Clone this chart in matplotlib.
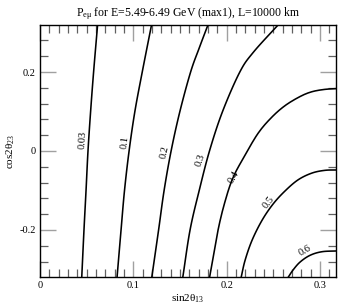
import matplotlib
matplotlib.use("Agg")
import numpy as np
import matplotlib.pyplot as plt
from matplotlib.ticker import MultipleLocator

plt.rcParams['font.family'] = ['Liberation Serif', 'DejaVu Serif']
plt.rcParams['mathtext.fontset'] = 'custom'
plt.rcParams['mathtext.rm'] = 'Liberation Serif'
plt.rcParams['mathtext.it'] = 'Liberation Serif:italic'

# Contour levels of P_e-mu and traced points (sin2theta13, cos2theta23)
levels = ["0.03", "0.1", "0.2", "0.3", "0.4", "0.5", "0.6"]

c003_x = [0.0447, 0.0471, 0.0493, 0.0514, 0.0542, 0.0574, 0.0617]
c003_y = [-0.32, -0.2, -0.1, 0.0, 0.1, 0.2, 0.32]

c01_x = [0.0825, 0.0868, 0.0905, 0.0954, 0.1016, 0.1095, 0.1195]
c01_y = [-0.32, -0.2, -0.1, 0.0, 0.1, 0.2, 0.32]

c02_x = [0.1197, 0.1270, 0.1329, 0.1404, 0.1498, 0.1613, 0.1704, 0.1800]
c02_y = [-0.32, -0.2, -0.1, 0.0, 0.1, 0.2, 0.26, 0.32]

c03_x = [0.1529, 0.1607, 0.1705, 0.1815, 0.1955, 0.2140, 0.2285, 0.2553]
c03_y = [-0.32, -0.2, -0.1, 0.0, 0.1, 0.2, 0.25, 0.32]

c04_x = [0.1816, 0.1907, 0.1985, 0.2068, 0.2185, 0.2336, 0.2480, 0.2625, 0.2786, 0.2911, 0.3050, 0.3180]
c04_y = [-0.32, -0.2, -0.125, -0.067, -0.015, 0.045, 0.085, 0.115, 0.138, 0.150, 0.156, 0.158]

c05_x = [0.2154, 0.2196, 0.2271, 0.2379, 0.2497, 0.2625, 0.2764, 0.2911, 0.3050, 0.3180]
c05_y = [-0.32, -0.277, -0.226, -0.175, -0.134, -0.101, -0.073, -0.056, -0.049, -0.048]

c06_x = [0.2657, 0.2711, 0.2786, 0.2893, 0.3020, 0.3180]
c06_y = [-0.32, -0.301, -0.281, -0.264, -0.255, -0.253]

curves = [(c003_x, c003_y), (c01_x, c01_y), (c02_x, c02_y), (c03_x, c03_y),
          (c04_x, c04_y), (c05_x, c05_y), (c06_x, c06_y)]

# label anchor positions and angles
label_x = [0.0455, 0.0911, 0.1340, 0.1714, 0.2071, 0.2454, 0.2839]
label_y = [0.027, 0.023, -0.003, -0.024, -0.066, -0.129, -0.251]
label_rot = [86, 83, 77, 71, 60, 52, 30]

xticks = [0, 0.1, 0.2, 0.3]
xticklabels = ["0", "0.1", "0.2", "0.3"]
yticks = [-0.2, 0, 0.2]
yticklabels = ["-0.2", "0", "0.2"]


def smooth_path(xs, ys, n=12):
    """Catmull-Rom rendering through the traced points (drawing only)."""
    p = np.column_stack([xs, ys]).astype(float)
    p = np.vstack([2 * p[0] - p[1], p, 2 * p[-1] - p[-2]])
    out = []
    t = np.linspace(0, 1, n, endpoint=False)[:, None]
    for i in range(1, len(p) - 2):
        p0, p1, p2, p3 = p[i - 1], p[i], p[i + 1], p[i + 2]
        seg = 0.5 * ((2 * p1) + (-p0 + p2) * t + (2 * p0 - 5 * p1 + 4 * p2 - p3) * t ** 2
                     + (-p0 + 3 * p1 - 3 * p2 + p3) * t ** 3)
        out.append(seg)
    out.append(p[-2][None, :])
    out = np.vstack(out)
    return out[:, 0], out[:, 1]


fig = plt.figure(figsize=(3.38, 3.08), dpi=100)
ax = fig.add_axes([40/338, 1-277/308, 296/338, 252/308])

for (xs, ys) in curves:
    sx, sy = smooth_path(xs, ys)
    ax.plot(sx, sy, color='black', lw=1.15, solid_capstyle='butt')

for lab, lx, ly, r in zip(levels, label_x, label_y, label_rot):
    ax.text(lx, ly, lab, rotation=r, ha='center', va='center', fontsize=7.5,
            rotation_mode='anchor')

ax.set_xlim(0, 0.317)
ax.set_ylim(-0.319, 0.319)
ax.set_xticks(xticks)
ax.set_xticklabels(xticklabels)
ax.set_yticks(yticks)
ax.set_yticklabels(yticklabels)
ax.xaxis.set_minor_locator(MultipleLocator(0.01))
ax.yaxis.set_minor_locator(MultipleLocator(0.04))

ax.tick_params(which='both', direction='in', top=True, right=True)
ax.tick_params(which='major', length=11.5, width=1.0, color='#a0a0a0',
               labelsize=7.5, labelcolor='black', pad=3)
ax.tick_params(which='minor', length=5.5, width=0.9, color='#606060')
for s in ax.spines.values():
    s.set_linewidth(1.0)
    s.set_color('black')

ax.set_xlabel(r"sin2θ$_{13}$", fontsize=8, labelpad=2)
ax.set_ylabel(r"cos2θ$_{23}$", fontsize=8, labelpad=2)
ax.set_title(r"P$_{\mathrm{eμ}}$ for E=5.49-6.49 GeV (max1), L=10000 km",
             fontsize=8.5, pad=6)

fig.savefig("out.png", dpi=100)
